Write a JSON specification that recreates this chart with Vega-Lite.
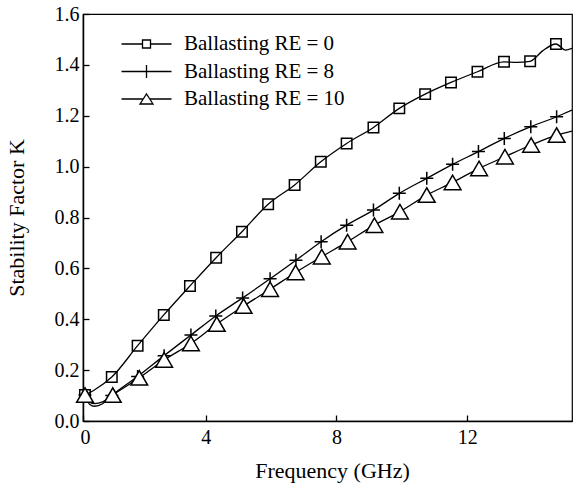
{
  "$schema": "https://vega.github.io/schema/vega-lite/v6.json",
  "width": 489,
  "height": 407,
  "autosize": {"type": "none"},
  "padding": {"left": 83, "top": 14, "right": 1, "bottom": 65},
  "config": {
    "font": "Liberation Serif",
    "view": {"stroke": "black", "strokeWidth": 1.2},
    "axis": {"grid": false, "domainColor": "black", "domainWidth": 1.5, "tickColor": "black", "tickWidth": 1.3, "labelColor": "black", "titleColor": "black", "labelFont": "Liberation Serif", "titleFont": "Liberation Serif", "labelFontSize": 20, "titleFontSize": 22, "titleFontWeight": "normal"}
  },
  "data": {"values": [
    {"s": "Ballasting RE = 0", "f": 0.31, "k": 0.102, "m": 1},
    {"s": "Ballasting RE = 0", "f": 0.62, "k": 0.124, "m": 0},
    {"s": "Ballasting RE = 0", "f": 1.13, "k": 0.173, "m": 1},
    {"s": "Ballasting RE = 0", "f": 1.92, "k": 0.296, "m": 1},
    {"s": "Ballasting RE = 0", "f": 2.72, "k": 0.417, "m": 1},
    {"s": "Ballasting RE = 0", "f": 3.52, "k": 0.531, "m": 1},
    {"s": "Ballasting RE = 0", "f": 4.32, "k": 0.642, "m": 1},
    {"s": "Ballasting RE = 0", "f": 5.11, "k": 0.744, "m": 1},
    {"s": "Ballasting RE = 0", "f": 5.91, "k": 0.852, "m": 1},
    {"s": "Ballasting RE = 0", "f": 6.72, "k": 0.928, "m": 1},
    {"s": "Ballasting RE = 0", "f": 7.52, "k": 1.019, "m": 1},
    {"s": "Ballasting RE = 0", "f": 8.31, "k": 1.091, "m": 1},
    {"s": "Ballasting RE = 0", "f": 9.13, "k": 1.154, "m": 1},
    {"s": "Ballasting RE = 0", "f": 9.92, "k": 1.229, "m": 1},
    {"s": "Ballasting RE = 0", "f": 10.71, "k": 1.285, "m": 1},
    {"s": "Ballasting RE = 0", "f": 11.5, "k": 1.331, "m": 1},
    {"s": "Ballasting RE = 0", "f": 12.31, "k": 1.373, "m": 1},
    {"s": "Ballasting RE = 0", "f": 13.12, "k": 1.412, "m": 1},
    {"s": "Ballasting RE = 0", "f": 13.5, "k": 1.41, "m": 0},
    {"s": "Ballasting RE = 0", "f": 13.92, "k": 1.414, "m": 1},
    {"s": "Ballasting RE = 0", "f": 14.3, "k": 1.455, "m": 0},
    {"s": "Ballasting RE = 0", "f": 14.71, "k": 1.482, "m": 1},
    {"s": "Ballasting RE = 0", "f": 15.0, "k": 1.458, "m": 0},
    {"s": "Ballasting RE = 0", "f": 15.2, "k": 1.465, "m": 0},
    {"s": "Ballasting RE = 8", "f": 0.31, "k": 0.102, "m": 1},
    {"s": "Ballasting RE = 8", "f": 0.45, "k": 0.066, "m": 0},
    {"s": "Ballasting RE = 8", "f": 0.6, "k": 0.058, "m": 0},
    {"s": "Ballasting RE = 8", "f": 0.85, "k": 0.068, "m": 0},
    {"s": "Ballasting RE = 8", "f": 1.13, "k": 0.1, "m": 1},
    {"s": "Ballasting RE = 8", "f": 1.92, "k": 0.175, "m": 1},
    {"s": "Ballasting RE = 8", "f": 2.73, "k": 0.257, "m": 1},
    {"s": "Ballasting RE = 8", "f": 3.55, "k": 0.338, "m": 1},
    {"s": "Ballasting RE = 8", "f": 4.31, "k": 0.413, "m": 1},
    {"s": "Ballasting RE = 8", "f": 5.13, "k": 0.484, "m": 1},
    {"s": "Ballasting RE = 8", "f": 5.97, "k": 0.559, "m": 1},
    {"s": "Ballasting RE = 8", "f": 6.76, "k": 0.632, "m": 1},
    {"s": "Ballasting RE = 8", "f": 7.53, "k": 0.705, "m": 1},
    {"s": "Ballasting RE = 8", "f": 8.31, "k": 0.77, "m": 1},
    {"s": "Ballasting RE = 8", "f": 9.13, "k": 0.829, "m": 1},
    {"s": "Ballasting RE = 8", "f": 9.92, "k": 0.895, "m": 1},
    {"s": "Ballasting RE = 8", "f": 10.76, "k": 0.954, "m": 1},
    {"s": "Ballasting RE = 8", "f": 11.55, "k": 1.009, "m": 1},
    {"s": "Ballasting RE = 8", "f": 12.34, "k": 1.059, "m": 1},
    {"s": "Ballasting RE = 8", "f": 13.13, "k": 1.111, "m": 1},
    {"s": "Ballasting RE = 8", "f": 13.94, "k": 1.157, "m": 1},
    {"s": "Ballasting RE = 8", "f": 14.73, "k": 1.196, "m": 1},
    {"s": "Ballasting RE = 8", "f": 15.2, "k": 1.222, "m": 0},
    {"s": "Ballasting RE = 10", "f": 0.31, "k": 0.102, "m": 1},
    {"s": "Ballasting RE = 10", "f": 0.45, "k": 0.075, "m": 0},
    {"s": "Ballasting RE = 10", "f": 0.6, "k": 0.068, "m": 0},
    {"s": "Ballasting RE = 10", "f": 0.85, "k": 0.075, "m": 0},
    {"s": "Ballasting RE = 10", "f": 1.16, "k": 0.102, "m": 1},
    {"s": "Ballasting RE = 10", "f": 1.97, "k": 0.17, "m": 1},
    {"s": "Ballasting RE = 10", "f": 2.73, "k": 0.24, "m": 1},
    {"s": "Ballasting RE = 10", "f": 3.55, "k": 0.305, "m": 1},
    {"s": "Ballasting RE = 10", "f": 4.34, "k": 0.381, "m": 1},
    {"s": "Ballasting RE = 10", "f": 5.16, "k": 0.452, "m": 1},
    {"s": "Ballasting RE = 10", "f": 5.97, "k": 0.518, "m": 1},
    {"s": "Ballasting RE = 10", "f": 6.75, "k": 0.584, "m": 1},
    {"s": "Ballasting RE = 10", "f": 7.55, "k": 0.646, "m": 1},
    {"s": "Ballasting RE = 10", "f": 8.34, "k": 0.705, "m": 1},
    {"s": "Ballasting RE = 10", "f": 9.16, "k": 0.77, "m": 1},
    {"s": "Ballasting RE = 10", "f": 9.94, "k": 0.823, "m": 1},
    {"s": "Ballasting RE = 10", "f": 10.76, "k": 0.888, "m": 1},
    {"s": "Ballasting RE = 10", "f": 11.55, "k": 0.938, "m": 1},
    {"s": "Ballasting RE = 10", "f": 12.36, "k": 0.993, "m": 1},
    {"s": "Ballasting RE = 10", "f": 13.15, "k": 1.039, "m": 1},
    {"s": "Ballasting RE = 10", "f": 13.95, "k": 1.085, "m": 1},
    {"s": "Ballasting RE = 10", "f": 14.73, "k": 1.124, "m": 1},
    {"s": "Ballasting RE = 10", "f": 15.2, "k": 1.14, "m": 0}
  ]},
  "encoding": {
    "x": {"field": "f", "type": "quantitative", "title": "Frequency (GHz)",
      "scale": {"domain": [0.25, 15.2], "nice": false, "zero": false},
      "axis": {"values": [0.25, 4, 8, 12], "labelExpr": "datum.value < 1 ? '0' : datum.label", "labelFlush": false, "tickSize": -6, "labelPadding": 12, "titleY": 56, "titleBaseline": "alphabetic", "titleX": 249,
        "labelOffset": {"condition": {"test": "datum.value < 1", "value": 2}, "value": 0}}},
    "y": {"field": "k", "type": "quantitative", "title": "Stability Factor K",
      "scale": {"domain": [0, 1.6], "nice": false},
      "axis": {"values": [0, 0.2, 0.4, 0.6, 0.8, 1.0, 1.2, 1.4, 1.6], "format": ".1f", "tickSize": -6, "labelPadding": 10, "titleX": -67, "titleY": 203.5, "titleBaseline": "middle", "titleAlign": "center"}}
  },
  "layer": [
    {
      "layer": [
        {
          "mark": {"type": "line", "interpolate": "monotone", "color": "black", "strokeWidth": 1.3, "clip": true},
          "encoding": {"detail": {"field": "s", "type": "nominal"}}
        },
        {
          "transform": [{"filter": "datum.m == 1 && datum.s == 'Ballasting RE = 0'"}],
          "mark": {"type": "point", "filled": false, "stroke": "black", "strokeWidth": 1.5, "opacity": 1, "size": 110},
          "encoding": {
            "shape": {"field": "s", "type": "nominal", "legend": null,
              "scale": {"domain": ["Ballasting RE = 0", "Ballasting RE = 8", "Ballasting RE = 10"], "range": ["square", "M-1,0H1M0,-1V1", "triangle-up"]}}
          }
        },
        {
          "transform": [{"filter": "datum.m == 1 && datum.s == 'Ballasting RE = 8'"}],
          "mark": {"type": "point", "filled": false, "stroke": "black", "strokeWidth": 1.5, "opacity": 1, "size": 169},
          "encoding": {"shape": {"field": "s", "type": "nominal", "legend": null}}
        },
        {
          "transform": [{"filter": "datum.m == 1 && datum.s == 'Ballasting RE = 10'"}],
          "mark": {"type": "point", "filled": true, "fill": "white", "stroke": "black", "strokeWidth": 1.5, "opacity": 1, "size": 280},
          "encoding": {"shape": {"field": "s", "type": "nominal", "legend": null}}
        }
      ]
    },
    {
      "transform": [{"filter": "false"}],
      "mark": {"type": "point", "filled": false, "stroke": "black", "strokeWidth": 1.3, "opacity": 1},
      "encoding": {
        "shape": {"field": "s", "type": "nominal",
          "scale": {"domain": ["Ballasting RE = 0", "Ballasting RE = 8", "Ballasting RE = 10"], "range": ["M-5,0H-0.8M0.8,0H5M-0.8,-0.8H0.8V0.8H-0.8Z", "M-5,0H5M0,-1.3V1.3", "M-5,0H-0.65M0.65,0H5M-1.3,1L0,-1L1.3,1Z"]},
          "legend": {"title": null, "orient": "none", "legendX": 39, "legendY": 19.5, "padding": 0, "rowPadding": 5.5, "symbolOffset": 14, "labelOffset": 27, "labelFont": "Liberation Serif", "labelFontSize": 21, "labelColor": "black", "labelLimit": 400, "symbolSize": 100, "symbolStrokeWidth": 1.3, "symbolStrokeColor": "black", "symbolFillColor": "transparent", "symbolOpacity": 1}}
      }
    }
  ],
  "resolve": {"scale": {"shape": "independent"}, "legend": {"shape": "independent"}}
}
